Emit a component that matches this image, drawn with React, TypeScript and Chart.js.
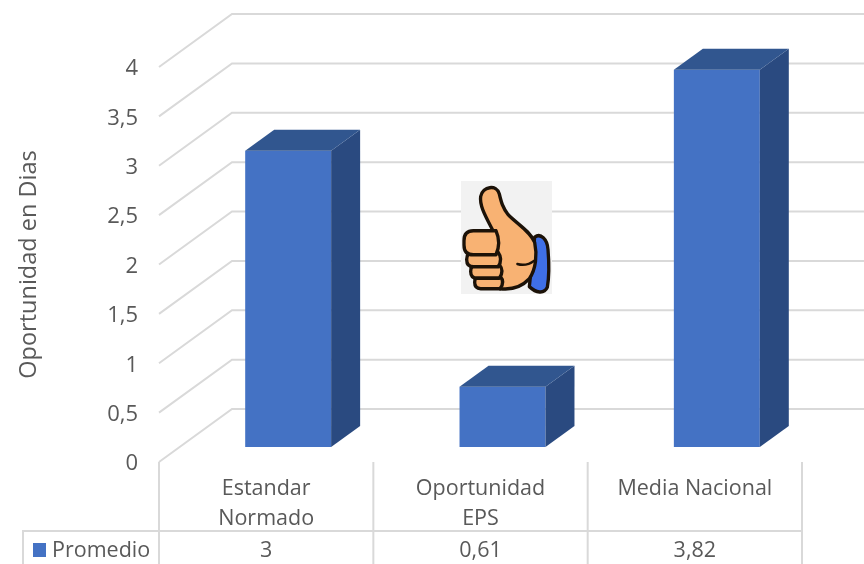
import React, { useEffect, useRef } from "react";
import { Chart, registerables } from "chart.js";

Chart.register(...registerables);

const categories: string[][] = [["Estandar", "Normado"], ["Oportunidad", "EPS"], ["Media Nacional"]];
const promedio: number[] = [3, 0.61, 3.82];
const tablaValores: string[] = ["3", "0,61", "3,82"];
const serieNombre = "Promedio";
const ejeTitulo = "Oportunidad en Dias";

const FONT = '"Open Sans", sans-serif';
const GRID = "#d9d9d9";
const TEXT = "#595959";
const FRONT = "#4472c4";
const SIDE = "#2a4a80";
const TOP = "#31568f";
const BAR_DX = 22, BAR_DY = -15;
const DEPTH_X = 29, DEPTH_Y = -21;
const WALL_DX = 73, WALL_DY = -53;

function drawThumb(ctx: CanvasRenderingContext2D) {
  ctx.save();
  ctx.fillStyle = "#f2f2f2";
  ctx.fillRect(461, 181, 91, 113);
  ctx.translate(440, 170);
  ctx.scale(1 / 3, 1.06 / 3);
  ctx.lineJoin = "round";
  ctx.lineCap = "round";
  ctx.strokeStyle = "#1c1208";
  ctx.lineWidth = 10;
  const cuff = new Path2D("M284 190 C302 178 322 195 324 225 C328 270 326 310 322 332 C312 352 288 348 268 330 Z");
  ctx.fillStyle = "#3f6fe6";
  ctx.fill(cuff);
  ctx.stroke(cuff);
  const hand = new Path2D(
    "M158 170 C136 130 118 100 122 75 C128 46 170 40 178 68 C184 92 188 106 204 126 C230 152 270 172 284 205 C292 240 288 280 268 308 C244 332 214 340 180 336 L120 240 Z"
  );
  ctx.fillStyle = "#f8b273";
  ctx.fill(hand);
  ctx.stroke(hand);
  const fingers: number[][] = [
    [104, 300, 88, 36],
    [92, 268, 98, 38],
    [80, 232, 106, 42],
    [72, 172, 108, 68],
  ];
  fingers.forEach(([x, y, w, h]) => {
    const r = Math.min(h / 2, 28);
    const path = new Path2D();
    path.moveTo(x + w - 12, y);
    path.lineTo(x + r, y);
    path.quadraticCurveTo(x, y, x, y + r);
    path.lineTo(x, y + h - r);
    path.quadraticCurveTo(x, y + h, x + r, y + h);
    path.lineTo(x + w - 12, y + h);
    path.quadraticCurveTo(x + w + 4, y + h / 2, x + w - 12, y);
    ctx.fill(path);
    ctx.stroke(path);
  });
  ctx.lineWidth = 7;
  ctx.beginPath();
  ctx.moveTo(232, 266);
  ctx.quadraticCurveTo(258, 274, 284, 256);
  ctx.stroke();
  ctx.restore();
}

const scene3d = {
  id: "scene3d",
  beforeDatasetsDraw(chart: any) {
    const { ctx, scales, chartArea, width } = chart;
    const left = chartArea.left;
    ctx.save();
    ctx.strokeStyle = GRID;
    ctx.lineWidth = 2;
    scales.y.ticks.forEach((t: any) => {
      const y = scales.y.getPixelForValue(t.value);
      ctx.beginPath();
      ctx.moveTo(left, y);
      ctx.lineTo(left + WALL_DX, y + WALL_DY);
      ctx.lineTo(width, y + WALL_DY);
      ctx.stroke();
    });
    ctx.restore();
    ctx.save();
    ctx.translate(BAR_DX, BAR_DY);
  },
  afterDatasetsDraw(chart: any) {
    const { ctx } = chart;
    chart.getDatasetMeta(0).data.forEach((el: any) => {
      const p = el.getProps(["x", "y", "base", "width"], true);
      const l = p.x - p.width / 2;
      const r = p.x + p.width / 2;
      ctx.fillStyle = SIDE;
      ctx.beginPath();
      ctx.moveTo(r, p.y);
      ctx.lineTo(r + DEPTH_X, p.y + DEPTH_Y);
      ctx.lineTo(r + DEPTH_X, p.base + DEPTH_Y);
      ctx.lineTo(r, p.base);
      ctx.closePath();
      ctx.fill();
      ctx.fillStyle = TOP;
      ctx.beginPath();
      ctx.moveTo(l, p.y);
      ctx.lineTo(l + DEPTH_X, p.y + DEPTH_Y);
      ctx.lineTo(r + DEPTH_X, p.y + DEPTH_Y);
      ctx.lineTo(r, p.y);
      ctx.closePath();
      ctx.fill();
    });
    ctx.restore();

    drawThumb(ctx);

    // data table below the plot
    const { scales, chartArea, height } = chart;
    const rowY = 531;
    const textY = 551;
    ctx.save();
    ctx.strokeStyle = GRID;
    ctx.lineWidth = 2;
    const x0 = chartArea.left;
    const step = (chartArea.right - chartArea.left) / categories.length;
    for (let i = 0; i <= categories.length; i++) {
      const x = x0 + step * i;
      ctx.beginPath();
      ctx.moveTo(x, chartArea.bottom);
      ctx.lineTo(x, height);
      ctx.stroke();
    }
    ctx.beginPath();
    ctx.moveTo(23, height);
    ctx.lineTo(23, rowY);
    ctx.lineTo(chartArea.right, rowY);
    ctx.stroke();
    ctx.font = `21.5px ${FONT}`;
    ctx.fillStyle = TEXT;
    ctx.textBaseline = "middle";
    ctx.textAlign = "center";
    tablaValores.forEach((v, i) => ctx.fillText(v, scales.x.getPixelForValue(i), textY));
    ctx.textAlign = "left";
    ctx.fillText(serieNombre, 52, textY);
    ctx.fillStyle = FRONT;
    ctx.fillRect(33, 543, 13, 14);
    ctx.restore();
  },
};

export default function App() {
  const ref = useRef<HTMLCanvasElement>(null);
  useEffect(() => {
    const chart = new Chart(ref.current as HTMLCanvasElement, {
      type: "bar",
      data: {
        labels: categories as any,
        datasets: [
          {
            label: serieNombre,
            data: promedio,
            backgroundColor: FRONT,
            categoryPercentage: 1,
            barPercentage: 0.401,
          },
        ],
      },
      plugins: [scene3d],
      options: {
        responsive: false,
        animation: false,
        layout: { padding: { left: 0, right: 62, top: 67, bottom: 0 } },
        plugins: { legend: { display: false }, tooltip: { enabled: false } },
        scales: {
          x: {
            grid: { display: false },
            border: { display: false },
            afterFit: (s: any) => {
              s.height = 102;
            },
            ticks: {
              color: TEXT,
              padding: 4,
              maxRotation: 0,
              autoSkip: false,
              font: { family: FONT, size: 21.5, lineHeight: 1.38 },
            },
          },
          y: {
            min: 0,
            max: 4,
            grid: { display: false },
            border: { display: false },
            afterFit: (s: any) => {
              s.width = 159;
            },
            title: {
              display: true,
              text: ejeTitulo,
              color: TEXT,
              padding: { top: 15, bottom: 0 },
              font: { family: FONT, size: 23.5, weight: "normal", lineHeight: 1.2 },
            },
            ticks: {
              stepSize: 0.5,
              color: TEXT,
              padding: 13,
              labelOffset: 2,
              font: { family: FONT, size: 22 },
              callback: (v: any) => String(v).replace(".", ","),
            },
          },
        },
      },
    } as any);
    return () => chart.destroy();
  }, []);
  return (
    <div style={{ position: "absolute", left: 0, top: 0, width: 864, height: 564, background: "#fff" }}>
      <canvas ref={ref} width={864} height={564} style={{ display: "block" }} />
    </div>
  );
}
